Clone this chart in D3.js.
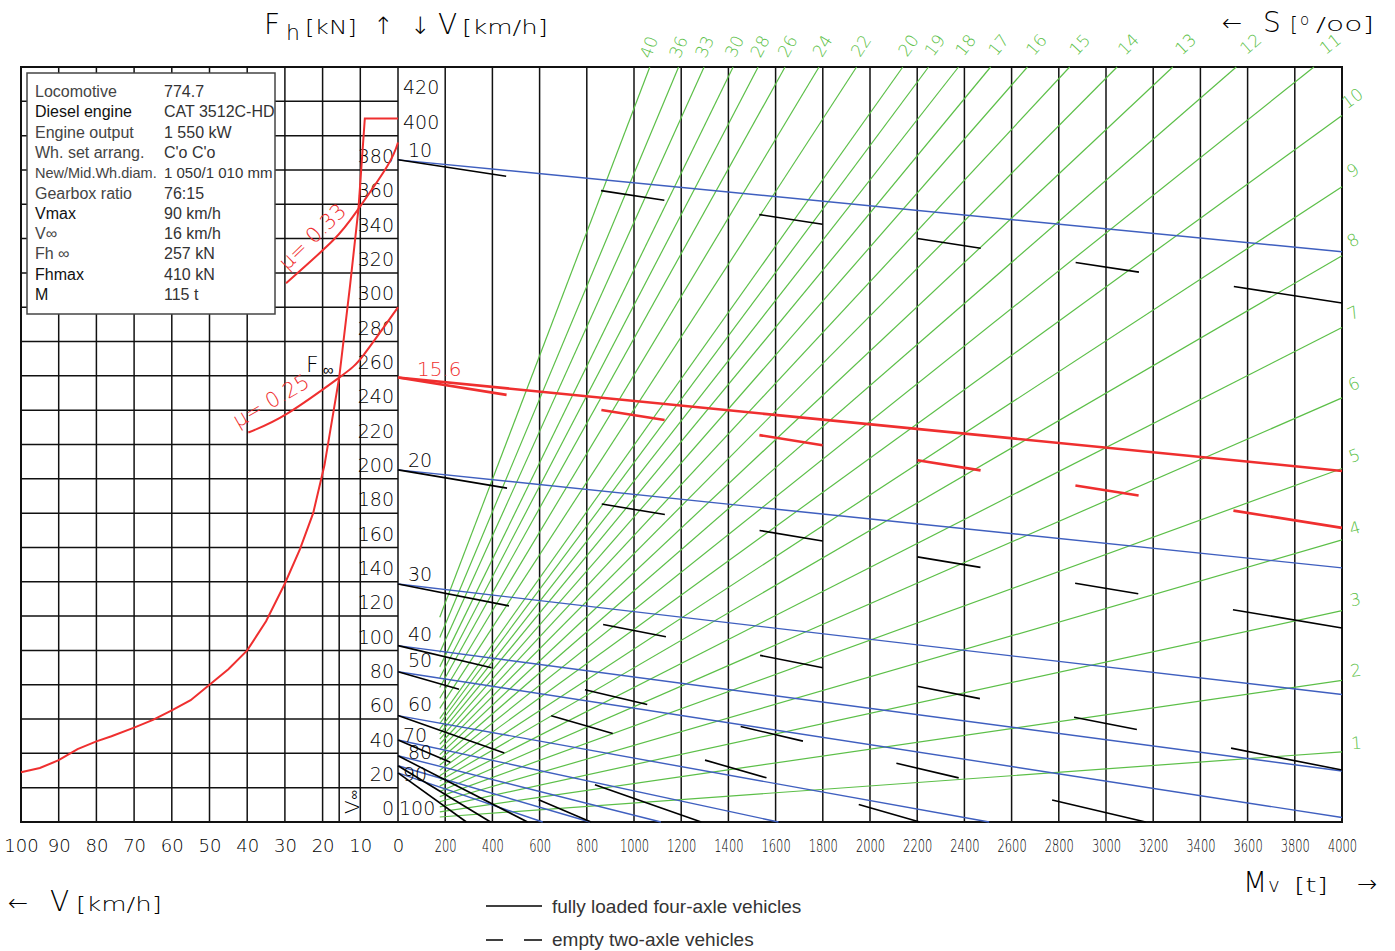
<!DOCTYPE html>
<html>
<head>
<meta charset="utf-8">
<script src="https://cdn.jsdelivr.net/npm/d3@7"></script>
<style>
body { margin: 0; background: #fff; }
svg text { font-family: "DejaVu Sans", sans-serif; font-weight: 200; }
svg .info text, svg .legend text { font-family: "Liberation Sans", Arial, sans-serif; font-weight: normal; }
</style>
</head>
<body>
<svg id="chart" width="1395" height="951"></svg>
<script>
// tick labels
const speedTicks = [100, 90, 80, 70, 60, 50, 40, 30, 20, 10, 0];
const massTicks = [200, 400, 600, 800, 1000, 1200, 1400, 1600, 1800, 2000, 2200, 2400, 2600, 2800, 3000, 3200, 3400, 3600, 3800, 4000];
const forceTicks = [0, 20, 40, 60, 80, 100, 120, 140, 160, 180, 200, 220, 240, 260, 280, 300, 320, 340, 360, 380, 400, 420];

// tractive effort curve Fh(V)
const tractV = [0, 8.8, 10.5, 12.7, 15.6, 19.5, 22.5, 26, 30, 35, 40, 45, 50, 55, 60, 65, 70, 76, 80, 85, 90, 95, 100];
const tractF = [410, 410, 357, 313, 259, 208, 180, 159, 139, 117, 100, 89, 80, 71, 65, 59.5, 55, 50, 47, 42.5, 36, 31.5, 29];

// adhesion curves
const mu033V = [0, 2.9, 10.6, 17.2, 29.7];
const mu033F = [396, 382, 357, 339, 314];
const mu025V = [0, 9.2, 15.6, 29.4, 39.7];
const mu025F = [300, 272, 259, 238, 227];

// V infinity point
const vInf = 15.6, fInf = 259;
const vInfLoaded = 204.6, vInfEmpty = 171.4;   // F at Mv = 4000 t

// speed lines in the Mv panel: F at Mv = 0 and at Mv = 4000 t
const speedV = [10, 20, 30, 40, 50, 60, 70, 80, 90, 100];
const speedF0 = [385.9, 205.2, 138.7, 102.8, 87.6, 62.0, 47.8, 38.6, 32.8, 28.6];
const loadedF4000 = [332.3, 148.1, 74.3, 29.7, 2.6, -37, -70.8, -100, -128.4, -158];
const emptyF4000 = [302.5, 113.1, 30.3, -27, -70.9, -131, -186, -242.6, -301.8, -366];

// gradient lines s [o/oo]
const grades = [1, 2, 3, 4, 5, 6, 7, 8, 9, 10, 11, 12, 13, 14, 15, 16, 17, 18, 19, 20, 22, 24, 26, 28, 30, 33, 36, 40];
const gradeStartM = 177;
const gradeStartF = [2.9, 5.9, 8.8, 11.8, 14.8, 17.8, 20.9, 24.0, 26.9, 30.1, 33.2, 36.3, 39.3, 42.3, 45.3, 48.3, 51.4, 54.3, 57.4, 60.3, 66.2, 72.1, 78.4, 84.1, 90.4, 98.8, 107.5, 119.3];
const gradeEndM = [4000, 4000, 4000, 4000, 4000, 4000, 4000, 4000, 4000, 4000, 3881, 3552, 3283, 3047, 2846, 2667, 2511, 2375, 2248, 2139, 1943, 1784, 1640, 1526, 1420, 1297, 1189, 1067];
const gradeEndF = [40.9, 82.5, 123.2, 164.4, 206.0, 247.2, 288.2, 330.0, 370.2, 411.7, 440, 440, 440, 440, 440, 440, 440, 440, 440, 440, 440, 440, 440, 440, 440, 440, 440, 440];

const infoLabels = ['Locomotive', 'Diesel engine', 'Engine output', 'Wh. set arrang.', 'New/Mid.Wh.diam.', 'Gearbox ratio', 'Vmax', 'V\u221e', 'Fh \u221e', 'Fhmax', 'M'];
const infoValues = ['774.7', 'CAT 3512C-HD', '1 550 kW', "C'o C'o", '1 050/1 010 mm', '76:15', '90 km/h', '16 km/h', '257 kN', '410 kN', '115 t'];

const RED = '#ef2f2f', BLUE = '#3f5fbf', GREEN = '#5cbf48';

const svg = d3.select('#chart');

const xV = d3.scaleLinear().domain([100, 0]).range([21, 398]);
const xM = d3.scaleLinear().domain([0, 4000]).range([398, 1342]);
const yF = d3.scaleLinear().domain([0, 440]).range([822, 67]);

// grid
const grid = svg.append('g').attr('stroke', '#111').attr('stroke-width', 1.5);
grid.selectAll('.gv').data(speedTicks).join('line')
    .attr('x1', d => xV(d)).attr('x2', d => xV(d))
    .attr('y1', yF(440)).attr('y2', yF(0));
grid.selectAll('.gh').data(forceTicks).join('line')
    .attr('x1', xV(100)).attr('x2', xV(0))
    .attr('y1', d => yF(d)).attr('y2', d => yF(d));
grid.selectAll('.gm').data(massTicks).join('line')
    .attr('x1', d => xM(d)).attr('x2', d => xM(d))
    .attr('y1', yF(440)).attr('y2', yF(0));
grid.append('line')
    .attr('x1', xV(vInf)).attr('x2', xV(vInf))
    .attr('y1', yF(fInf)).attr('y2', yF(0));
svg.append('rect')
    .attr('x', xV(100)).attr('y', yF(440))
    .attr('width', xM(4000) - xV(100)).attr('height', yF(0) - yF(440))
    .attr('fill', 'none').attr('stroke', '#111').attr('stroke-width', 2);

// bottom axes labels
function styleAxis(g, size) {
    g.select('.domain').remove();
    g.selectAll('text').attr('y', 0).attr('dy', '0.35em')
        .attr('font-size', size).attr('fill', '#000')
        .attr('font-family', '"DejaVu Sans", sans-serif');
    g.attr('font-family', null).attr('font-size', null);
}
svg.append('g').attr('transform', 'translate(0,846)')
    .call(d3.axisBottom(xV).tickValues(speedTicks).tickSize(0).tickFormat(d3.format('d')))
    .call(g => styleAxis(g, 18));
svg.append('g').attr('transform', 'translate(0,846)')
    .call(d3.axisBottom(xM).tickValues(massTicks).tickSize(0).tickFormat(d3.format('d')))
    .call(g => styleAxis(g, 17))
    .call(g => g.selectAll('text').attr('textLength', d => String(d).length * 7.3).attr('lengthAdjust', 'spacingAndGlyphs'));

// Fh labels
svg.append('g').attr('transform', 'translate(394,0)')
    .call(d3.axisLeft(yF).tickValues(forceTicks.filter(d => d < 400)).tickSize(0).tickFormat(d3.format('d')))
    .call(g => styleAxis(g, 19))
    .call(g => g.selectAll('text').attr('x', 0).attr('y', -14));
svg.append('g').attr('transform', 'translate(403,0)')
    .call(d3.axisRight(yF).tickValues(forceTicks.filter(d => d >= 400)).tickSize(0).tickFormat(d3.format('d')))
    .call(g => styleAxis(g, 19))
    .call(g => g.selectAll('text').attr('x', 0).attr('y', -14));

// gradient lines
const gradeData = grades.map((s, i) => ({
    s, x1: xM(gradeStartM), y1: yF(gradeStartF[i]), x2: xM(gradeEndM[i]), y2: yF(gradeEndF[i])
}));
svg.append('g').attr('stroke', GREEN).attr('stroke-width', 1.2)
    .selectAll('line').data(gradeData).join('line')
    .attr('x1', d => d.x1).attr('y1', d => d.y1)
    .attr('x2', d => d.x2).attr('y2', d => d.y2);

svg.append('g').selectAll('text').data(gradeData).join('text')
    .attr('transform', d => {
        const k = (d.y2 - d.y1) / (d.x2 - d.x1);
        const ang = Math.atan(k) * 180 / Math.PI;
        let px, py;
        if (d.y2 <= yF(440) + 0.5) { py = 50; px = d.x2 + (py - d.y2) / k; }
        else { px = 1357; py = d.y2 + (px - d.x2) * k; }
        return `translate(${px},${py}) rotate(${ang})`;
    })
    .attr('y', -2).attr('text-anchor', 'middle')
    .attr('font-size', 17).attr('fill', GREEN)
    .text(d => d.s);

// speed lines
function lineEnds(f0, f1) {
    if (f1 >= 0) return [[0, f0], [4000, f1]];
    return [[0, f0], [f0 / (f0 - f1) * 4000, 0]];
}
function dashFor(p) {
    const len = Math.hypot(xM(p[1][0]) - xM(p[0][0]), yF(p[1][1]) - yF(p[0][1]));
    if (len < 192) return null;
    const n = Math.floor((len - 192) / 160);
    const a = (len - 64 * n - 96 * (n + 1)) / 2;
    const arr = [a];
    for (let i = 0; i < n; i++) arr.push(96, 64);
    arr.push(96, a + 20);
    return arr.join(',');
}
const speedData = speedV.map((v, i) => ({
    v, loaded: lineEnds(speedF0[i], loadedF4000[i]), empty: lineEnds(speedF0[i], emptyF4000[i])
}));

svg.append('g').attr('stroke', BLUE).attr('stroke-width', 1.4)
    .selectAll('line').data(speedData).join('line')
    .attr('x1', d => xM(d.loaded[0][0])).attr('y1', d => yF(d.loaded[0][1]))
    .attr('x2', d => xM(d.loaded[1][0])).attr('y2', d => yF(d.loaded[1][1]));
svg.append('g').attr('stroke', '#000').attr('stroke-width', 1.6)
    .selectAll('line').data(speedData).join('line')
    .attr('x1', d => xM(d.empty[0][0])).attr('y1', d => yF(d.empty[0][1]))
    .attr('x2', d => xM(d.empty[1][0])).attr('y2', d => yF(d.empty[1][1]))
    .attr('stroke-dasharray', d => dashFor(d.empty));

// label layout for speed lines (pixel offsets)
const speedLabelDx = [408, 408, 408, 408, 408, 408, 403, 408, 403, 399];
const speedLabelDy = [-9, -10, -10, -11, -11, -11, -5, -3, 9, 35];
svg.append('g').selectAll('text').data(speedData).join('text')
    .attr('x', (d, i) => speedLabelDx[i])
    .attr('y', (d, i) => yF(d.loaded[0][1]) + speedLabelDy[i])
    .attr('dy', '0.35em').attr('font-size', 19)
    .text(d => d.v);

// V infinity lines (red)
const infLoaded = lineEnds(fInf, vInfLoaded), infEmpty = lineEnds(fInf, vInfEmpty);
svg.append('line').attr('stroke', RED).attr('stroke-width', 2.6)
    .attr('x1', xM(infLoaded[0][0])).attr('y1', yF(infLoaded[0][1]))
    .attr('x2', xM(infLoaded[1][0])).attr('y2', yF(infLoaded[1][1]));
svg.append('line').attr('stroke', RED).attr('stroke-width', 2.6)
    .attr('x1', xM(infEmpty[0][0])).attr('y1', yF(infEmpty[0][1]))
    .attr('x2', xM(infEmpty[1][0])).attr('y2', yF(infEmpty[1][1]))
    .attr('stroke-dasharray', dashFor(infEmpty));
svg.append('text').attr('x', 417).attr('y', yF(fInf) - 9).attr('dy', '0.35em')
    .attr('font-size', 20).attr('fill', RED).text('15.6');

// left panel curves
const vLine = d3.line().x(d => xV(d[0])).y(d => yF(d[1]));
svg.append('path').datum(d3.zip(tractV, tractF))
    .attr('d', vLine).attr('fill', 'none').attr('stroke', RED).attr('stroke-width', 2);
const muLine = d3.line().x(d => xV(d[0])).y(d => yF(d[1])).curve(d3.curveNatural);
svg.append('path').datum(d3.zip(mu033V, mu033F))
    .attr('d', muLine).attr('fill', 'none').attr('stroke', RED).attr('stroke-width', 2);
svg.append('path').datum(d3.zip(mu025V, mu025F))
    .attr('d', muLine).attr('fill', 'none').attr('stroke', RED).attr('stroke-width', 2);

svg.append('text').attr('transform', 'translate(287,271) rotate(-44)')
    .attr('font-size', 21).attr('fill', RED).text('\u03bc= 0.33');
svg.append('text').attr('transform', 'translate(238,428) rotate(-30)')
    .attr('font-size', 21).attr('fill', RED).text('\u03bc= 0.25');

// F infinity / V infinity labels
const fLab = svg.append('text').attr('x', 306).attr('y', 372).attr('font-size', 22);
fLab.append('tspan').text('F');
fLab.append('tspan').attr('font-size', 15).attr('dx', 4).attr('dy', 3).text('\u221e');
const vLab = svg.append('text').attr('transform', 'translate(359,814) rotate(-90)').attr('font-size', 20);
vLab.append('tspan').text('V');
vLab.append('tspan').attr('font-size', 13).attr('dx', 1).attr('dy', -1).text('\u221e');

// info box
const info = svg.append('g').attr('class', 'info');
info.append('rect').attr('x', 27).attr('y', 73).attr('width', 248).attr('height', 241)
    .attr('fill', '#fff').attr('stroke', '#444').attr('stroke-width', 1.5);
info.selectAll('.lab').data(infoLabels).join('text')
    .attr('x', 35).attr('y', (d, i) => 97 + i * 20.3)
    .attr('font-size', (d, i) => i === 4 ? 14.5 : 16).attr('fill', (d, i) => [1, 6, 9, 10].includes(i) ? '#111' : '#444')
    .text(d => d);
info.selectAll('.val').data(infoValues).join('text')
    .attr('x', 164).attr('y', (d, i) => 97 + i * 20.3)
    .attr('font-size', (d, i) => i === 4 ? 15 : 16).attr('fill', '#333')
    .attr('font-weight', (d, i) => i === 0 ? 'bold' : 'normal')
    .text(d => d);

// titles
function put(x, y, size, str, len) {
    const t = svg.append('text').attr('x', x).attr('y', y).attr('font-size', size).text(str);
    if (len) t.attr('textLength', len).attr('lengthAdjust', 'spacingAndGlyphs');
    return t;
}
put(264, 34, 28, 'F');
put(286, 40, 22, 'h');
put(305, 34, 20, '[kN]', 52);
put(373, 34, 24, '\u2191');
put(410, 34, 24, '\u2193');
put(438, 34, 28, 'V');
put(462, 34, 20, '[km/h]', 86);

put(1222, 31, 24, '\u2190');
put(1263, 32, 28, 'S');
put(1290, 31, 20, '[', 8);
put(1300, 25, 15, 'o');
put(1316, 31, 20, '/oo]', 58);

put(8, 911, 24, '\u2190');
put(50, 911, 28, 'V');
put(76, 911, 20, '[km/h]', 86);

put(1243, 892, 28, 'M');
put(1268, 892, 20, 'v');
put(1294, 892, 20, '[t]', 34);
put(1357, 892, 24, '\u2192');

// legend
const legend = svg.append('g').attr('class', 'legend');
legend.append('line').attr('x1', 486).attr('x2', 542).attr('y1', 906).attr('y2', 906)
    .attr('stroke', '#000').attr('stroke-width', 1.3);
legend.append('line').attr('x1', 486).attr('x2', 542).attr('y1', 940).attr('y2', 940)
    .attr('stroke', '#000').attr('stroke-width', 1.3).attr('stroke-dasharray', '17,21,18');
legend.append('text').attr('x', 552).attr('y', 913).attr('font-size', 19).attr('fill', '#333')
    .text('fully loaded four-axle vehicles');
legend.append('text').attr('x', 552).attr('y', 946).attr('font-size', 19).attr('fill', '#333')
    .text('empty two-axle vehicles');
</script>
</body>
</html>
